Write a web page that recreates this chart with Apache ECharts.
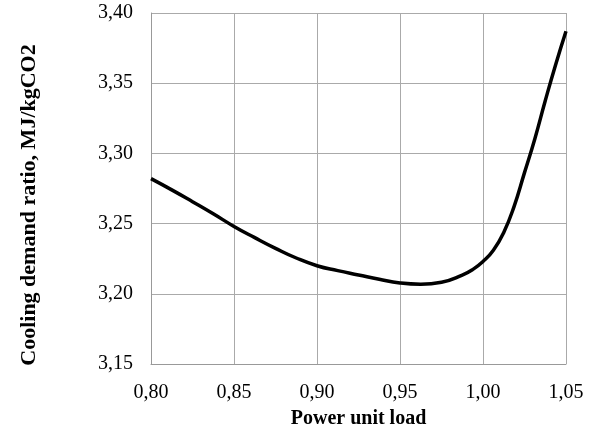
<!DOCTYPE html>
<html>
<head>
<meta charset="utf-8">
<script src="https://cdn.jsdelivr.net/npm/echarts@6/dist/echarts.min.js"></script>
<style>html,body{margin:0;padding:0;background:#fff;}#c{width:593px;height:430px;}</style>
</head>
<body>
<div id="c"></div>
<script>
const loadX = [0.8000, 0.8125, 0.8250, 0.8375, 0.8500, 0.8625, 0.8750, 0.8875, 0.9000, 0.9125, 0.9250, 0.9375, 0.9500, 0.9625, 0.9750, 0.9875, 0.99375, 1.0000, 1.00625, 1.0125, 1.01875, 1.0250, 1.03125, 1.0375, 1.04375, 1.0500];
const ratioY = [3.282, 3.274, 3.2656, 3.257, 3.248, 3.240, 3.2324, 3.2255, 3.220, 3.2165, 3.2134, 3.2103, 3.2077, 3.2068, 3.2082, 3.2133, 3.2172, 3.223, 3.231, 3.2437, 3.2623, 3.2863, 3.3105, 3.3375, 3.3632, 3.387];
const xTitle = 'Power unit load';
const yTitle = 'Cooling demand ratio, MJ/kgCO2';

const chart = echarts.init(document.getElementById('c'));
const fmt = v => v.toFixed(2).replace('.', ',');
const font = '"Liberation Serif", "Times New Roman", serif';
chart.setOption({
  animation: false,
  grid: {left: 151, right: 27, top: 13, bottom: 66, containLabel: false, outerBoundsMode: 'none'},
  graphic: [{
    type: 'text', x: 29, y: 205, rotation: Math.PI / 2,
    style: {text: yTitle, align: 'center', verticalAlign: 'middle',
      font: 'bold 22px "Liberation Serif", "Times New Roman", serif', fill: '#000'}
  }],
  xAxis: {
    type: 'value', min: 0.80, max: 1.05, interval: 0.05,
    name: xTitle, nameLocation: 'middle', nameGap: 45,
    nameTextStyle: {fontFamily: font, fontWeight: 'bold', fontSize: 20, color: '#000'},
    axisLine: {show: true, lineStyle: {color: '#999', width: 1}},
    axisTick: {show: false},
    axisLabel: {formatter: fmt, fontFamily: font, fontSize: 20, color: '#000', margin: 19},
    splitLine: {show: true, lineStyle: {color: '#aaa', width: 1}}
  },
  yAxis: {
    type: 'value', min: 3.15, max: 3.40, interval: 0.05,
    axisLine: {show: true, lineStyle: {color: '#999', width: 1}},
    axisTick: {show: false},
    axisLabel: {formatter: fmt, fontFamily: font, fontSize: 20, color: '#000', margin: 18},
    splitLine: {show: true, lineStyle: {color: '#aaa', width: 1}}
  },
  series: [{
    type: 'line', smooth: 0.5, showSymbol: false,
    data: loadX.map((x, i) => [x, ratioY[i]]),
    lineStyle: {color: '#000', width: 3.5}
  }]
});
</script>
</body>
</html>
